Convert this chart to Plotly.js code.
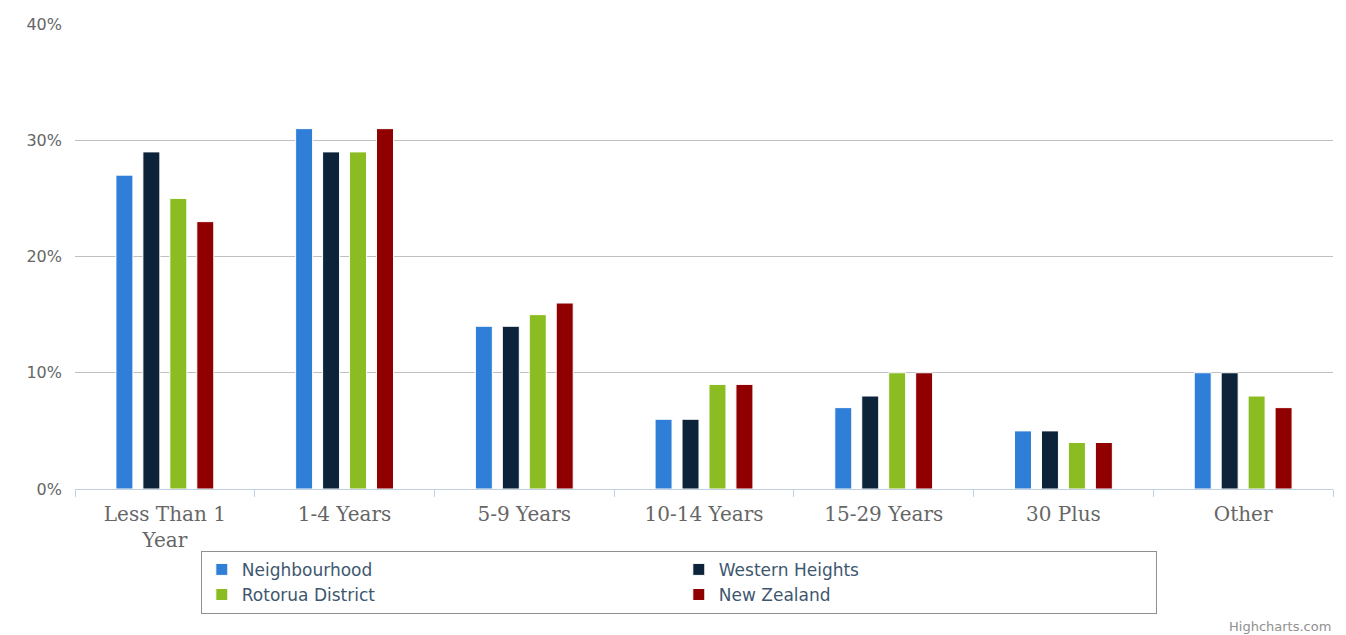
<!DOCTYPE html>
<html>
<head>
<meta charset="utf-8">
<script src="https://cdn.plot.ly/plotly-3.0.1.min.js"></script>
<style>html,body{margin:0;padding:0;background:#fff;}#chart{width:1346px;height:635px;}</style>
</head>
<body>
<div id="chart"></div>
<script>
const categories = ["Less Than 1<br>Year", "1-4 Years", "5-9 Years", "10-14 Years", "15-29 Years", "30 Plus", "Other"];
const seriesNames = ["Neighbourhood", "Western Heights", "Rotorua District", "New Zealand"];
const neighbourhood = [27, 31, 14, 6, 7, 5, 10];
const westernHeights = [29, 29, 14, 6, 8, 5, 10];
const rotoruaDistrict = [25, 29, 15, 9, 10, 4, 8];
const newZealand = [23, 31, 16, 9, 10, 4, 7];
const yTickValues = [0, 10, 20, 30, 40];
const yTickLabels = ["0%", "10%", "20%", "30%", "40%"];

const colors = ["#2F7ED8", "#0D233A", "#8BBC21", "#910000"];
const allValues = [neighbourhood, westernHeights, rotoruaDistrict, newZealand];

const traces = allValues.map((vals, i) => ({
  type: "bar",
  name: seriesNames[i],
  x: categories,
  y: vals,
  marker: {color: colors[i], line: {color: "#ffffff", width: 1}},
  hoverinfo: "x+y+name"
}));

const layout = {
  width: 1346,
  height: 635,
  margin: {l: 75, r: 13, t: 24, b: 146},
  paper_bgcolor: "#ffffff",
  plot_bgcolor: "#ffffff",
  barmode: "group",
  bargap: 0.4,
  bargroupgap: 0.37,
  font: {family: "DejaVu Sans", color: "#666666"},
  xaxis: {
    type: "category",
    tickson: "boundaries",
    ticks: "outside",
    ticklen: 7,
    tickcolor: "#C0D0E0",
    tickwidth: 1,
    showline: true,
    linecolor: "#C0D0E0",
    linewidth: 1,
    showgrid: false,
    tickfont: {family: "DejaVu Serif", size: 20, color: "#666666"},
    ticklabelstandoff: 7,
    fixedrange: true
  },
  yaxis: {
    range: [0, 40],
    tickvals: yTickValues,
    ticktext: yTickLabels,
    showgrid: true,
    gridcolor: "#C0C0C0",
    gridwidth: 1,
    zeroline: false,
    showline: false,
    ticks: "",
    tickfont: {family: "DejaVu Sans", size: 16, color: "#666666"},
    ticklabelstandoff: 12,
    fixedrange: true
  },
  showlegend: true,
  legend: {
    orientation: "h",
    x: 0.1,
    xanchor: "left",
    y: -0.133,
    yanchor: "top",
    entrywidth: 432,
    entrywidthmode: "pixels",
    bordercolor: "#909090",
    borderwidth: 1,
    bgcolor: "#ffffff",
    font: {family: "DejaVu Sans", size: 17, color: "#3E576F"},
    traceorder: "normal",
    itemclick: false
  },
  annotations: [{
    text: "Highcharts.com",
    xref: "paper", yref: "paper",
    x: 1, y: -0.295,
    xanchor: "right", yanchor: "middle",
    showarrow: false,
    font: {family: "DejaVu Sans", size: 13, color: "#909090"}
  }]
};

Plotly.newPlot("chart", traces, layout, {displayModeBar: false});
</script>
</body>
</html>
